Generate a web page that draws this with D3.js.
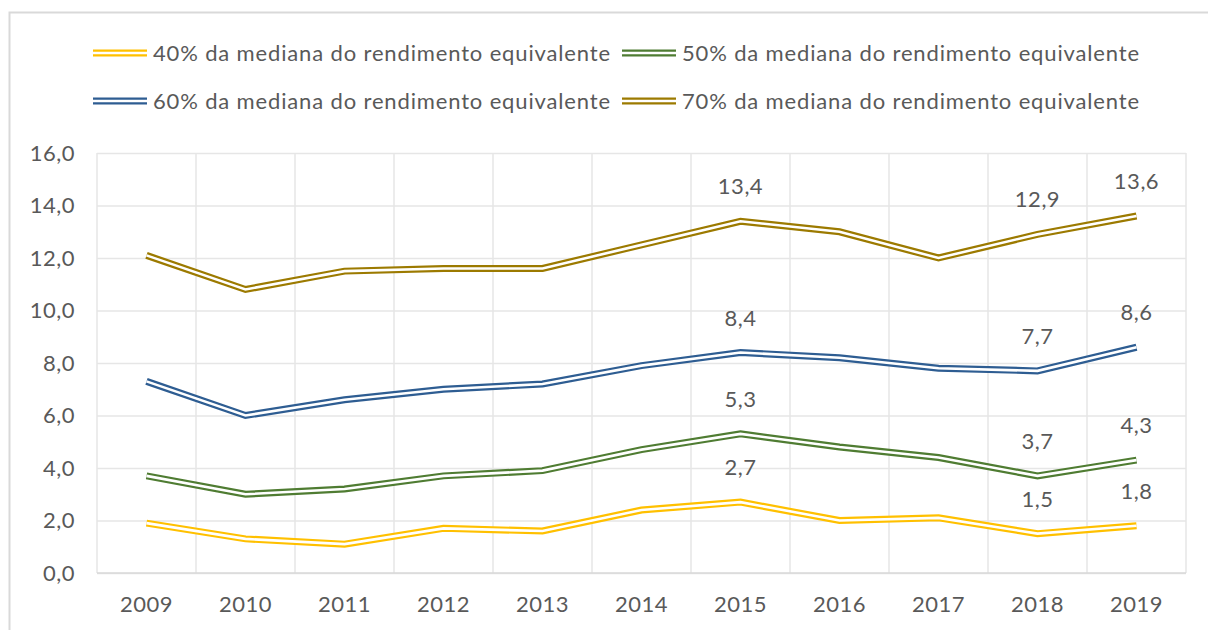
<!DOCTYPE html>
<html>
<head>
<meta charset="utf-8">
<script src="https://cdn.jsdelivr.net/npm/d3@7"></script>
<style>
  body { margin: 0; background: #fff; }
  text { font-family: Lato, "Open Sans", sans-serif; fill: #595959; }
</style>
</head>
<body>
<div id="chart"></div>
<script>
// values
var years = ['2009','2010','2011','2012','2013','2014','2015','2016','2017','2018','2019']
var s40 = [1.9, 1.3, 1.1, 1.7, 1.6, 2.4, 2.7, 2.0, 2.1, 1.5, 1.8]
var s50 = [3.7, 3.0, 3.2, 3.7, 3.9, 4.7, 5.3, 4.8, 4.4, 3.7, 4.3]
var s60 = [7.3, 6.0, 6.6, 7.0, 7.2, 7.9, 8.4, 8.2, 7.8, 7.7, 8.6]
var s70 = [12.1, 10.8, 11.5, 11.6, 11.6, 12.5, 13.4, 13.0, 12.0, 12.9, 13.6]
var seriesNames = [
  '40% da mediana do rendimento equivalente',
  '50% da mediana do rendimento equivalente',
  '60% da mediana do rendimento equivalente',
  '70% da mediana do rendimento equivalente'
]
var colors = ['#FFC000', '#4F7C32', '#2E5D92', '#9C7A00']
var labelYears = ['2015', '2018', '2019']
var yTicks = [0, 2, 4, 6, 8, 10, 12, 14, 16]

var series = [s40, s50, s60, s70].map(function(vals, i){
  return { name: seriesNames[i], color: colors[i], values: vals.map(function(v, j){ return { year: years[j], v: v } }) }
})

// dimensions
const W = 1208, H = 630
const margin = { top: 153, right: 22, bottom: 57, left: 97 }
    width = W - margin.left - margin.right,
    height = H - margin.top - margin.bottom;

const svg = d3.select('#chart').append('svg')
    .attr('width', W)
    .attr('height', H)

// outer frame
svg.append('rect')
    .attr('x', 9.5).attr('y', 12.5)
    .attr('width', W + 10).attr('height', H + 10)
    .attr('fill', 'none')
    .attr('stroke', '#d9d9d9')
    .attr('stroke-width', 2)

const xScale = d3.scaleBand()
    .domain(years)
    .range([0, width])

const yScale = d3.scaleLinear()
    .domain([0, 16])
    .range([height, 0])

const g = svg.append('g')
    .attr('transform', `translate(${margin.left}, ${margin.top})`)

// horizontal gridlines
g.append('g')
  .call(d3.axisLeft(yScale).tickValues(yTicks).tickSize(-width).tickFormat(''))
  .call(a => a.select('.domain').remove())
  .call(a => a.selectAll('line').attr('stroke', '#e6e6e6').attr('stroke-width', 1.5))

// vertical gridlines between categories
var bounds = years.map(d => xScale(d)).concat([width])
g.append('g').selectAll('line')
  .data(bounds)
  .join('line')
    .attr('x1', d => d).attr('x2', d => d)
    .attr('y1', 0).attr('y2', height)
    .attr('stroke', '#e6e6e6')
    .attr('stroke-width', 1.5)

// bottom axis line
g.append('line')
    .attr('x1', 0).attr('x2', width)
    .attr('y1', height).attr('y2', height)
    .attr('stroke', '#d9d9d9')
    .attr('stroke-width', 1.5)

// y tick labels
g.append('g')
  .call(d3.axisLeft(yScale).tickValues(yTicks).tickSize(0).tickPadding(22)
    .tickFormat(d => d3.format('.1f')(d).replace('.', ',')))
  .call(a => a.select('.domain').remove())
  .call(a => a.selectAll('text').style('font-size', '22px').style('letter-spacing', '0.5px').attr('fill', '#595959'))

// x tick labels
g.append('g')
  .attr('transform', `translate(0, ${height})`)
  .call(d3.axisBottom(xScale).tickSize(0).tickPadding(23))
  .call(a => a.select('.domain').remove())
  .call(a => a.selectAll('text').style('font-size', '22px').style('letter-spacing', '0.5px').attr('fill', '#595959'))

const line = d3.line()
    .x(d => xScale(d.year) + xScale.bandwidth() / 2)
    .y(d => yScale(d.v))

// double lines: thick coloured stroke with a white core
const lines = g.append('g').selectAll('g')
  .data(series)
  .join('g')

lines.append('path')
    .attr('d', d => line(d.values))
    .attr('fill', 'none')
    .attr('stroke', d => d.color)
    .attr('stroke-width', 7)
lines.append('path')
    .attr('d', d => line(d.values))
    .attr('fill', 'none')
    .attr('stroke', '#fff')
    .attr('stroke-width', 2.6)

// data labels
series.forEach(function(s){
  g.append('g').selectAll('text')
    .data(s.values.filter(d => labelYears.indexOf(d.year) >= 0))
    .join('text')
      .attr('x', d => xScale(d.year) + xScale.bandwidth() / 2)
      .attr('y', d => yScale(d.v) - 27)
      .attr('text-anchor', 'middle')
      .style('font-size', '22px')
      .style('letter-spacing', '0.5px')
      .text(d => d3.format('.1f')(d.v).replace('.', ','))
})

// legend
const legendPos = [[93, 53], [622, 53], [93, 101], [622, 101]]
const legend = svg.append('g').selectAll('g')
  .data(series)
  .join('g')
    .attr('transform', (d, i) => `translate(${legendPos[i][0]}, ${legendPos[i][1]})`)

legend.append('line')
    .attr('x1', 0).attr('x2', 54)
    .attr('stroke', d => d.color)
    .attr('stroke-width', 7)
legend.append('line')
    .attr('x1', 0).attr('x2', 54)
    .attr('stroke', '#fff')
    .attr('stroke-width', 2.6)
legend.append('text')
    .attr('x', 60)
    .attr('dy', '0.35em')
    .style('font-size', '22px')
    .style('letter-spacing', '0.85px')
    .text(d => d.name)
</script>
</body>
</html>
